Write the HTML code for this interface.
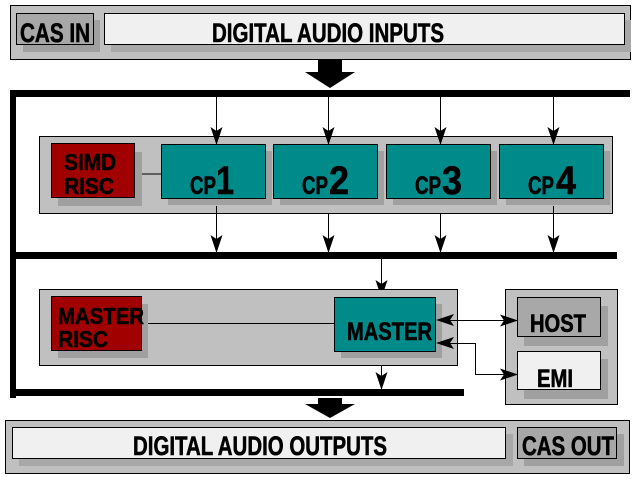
<!DOCTYPE html>
<html><head><style>html,body{margin:0;padding:0;background:#fff}svg{display:block}
text{font-family:"Liberation Sans Narrow","Liberation Sans",sans-serif;font-weight:bold;fill:#000;stroke:#000;stroke-width:0.6}</style></head>
<body><svg width="640" height="480" viewBox="0 0 640 480" xmlns="http://www.w3.org/2000/svg">
<defs><marker id="ah" markerWidth="18" markerHeight="12" refX="17" refY="6" orient="auto" markerUnits="userSpaceOnUse" viewBox="0 0 18 12"><path d="M0,0 L18,6 L0,12 L4,6 Z" fill="#000"/></marker></defs>
<rect x="10.5" y="5.5" width="620" height="54" fill="#c0c0c0" stroke="#000"/>
<rect x="23" y="20" width="77" height="32" fill="#a0a0a0"/>
<rect x="16.5" y="13.5" width="77" height="31" fill="#a8a8a8" stroke="#000"/>
<text x="20" y="42" font-size="27" textLength="70" lengthAdjust="spacingAndGlyphs">CAS IN</text>
<rect x="111" y="20" width="520" height="32" fill="#a8a8a8"/>
<rect x="104.5" y="13.5" width="520" height="31" fill="#f0f0f0" stroke="#000"/>
<text x="212" y="42" font-size="27" textLength="232" lengthAdjust="spacingAndGlyphs">DIGITAL AUDIO INPUTS</text>
<polygon points="318,59 342,59 342,72 355,72 330,88 305,72 318,72" fill="#000"/>
<rect x="10" y="90" width="620" height="7" fill="#000"/>
<rect x="10" y="90" width="6" height="308" fill="#000"/>
<rect x="39.5" y="136.5" width="573" height="77" fill="#c0c0c0" stroke="#000"/>
<line x1="134" y1="174" x2="161" y2="174" stroke="#000"/>
<rect x="58" y="152" width="84" height="54" fill="#a0a0a0"/>
<rect x="51.5" y="143.5" width="83" height="54" fill="#a00000" stroke="#000"/>
<text x="64" y="170" font-size="23" textLength="52" lengthAdjust="spacingAndGlyphs">SIMD</text>
<text x="64" y="194" font-size="23" textLength="50" lengthAdjust="spacingAndGlyphs">RISC</text>
<rect x="168" y="151" width="104" height="54" fill="#a0a0a0"/><rect x="161.5" y="144.5" width="104" height="54" fill="#008b8b" stroke="#000"/>
<text x="190" y="194" font-size="25" textLength="26" lengthAdjust="spacingAndGlyphs">CP</text><text x="216" y="194" font-size="40" textLength="18" lengthAdjust="spacingAndGlyphs">1</text>
<rect x="280" y="151" width="104" height="54" fill="#a0a0a0"/><rect x="273.5" y="144.5" width="104" height="54" fill="#008b8b" stroke="#000"/>
<text x="302" y="194" font-size="25" textLength="26" lengthAdjust="spacingAndGlyphs">CP</text><text x="329" y="194" font-size="40" textLength="20" lengthAdjust="spacingAndGlyphs">2</text>
<rect x="393" y="151" width="104" height="54" fill="#a0a0a0"/><rect x="386.5" y="144.5" width="104" height="54" fill="#008b8b" stroke="#000"/>
<text x="415" y="194" font-size="25" textLength="26" lengthAdjust="spacingAndGlyphs">CP</text><text x="442" y="194" font-size="40" textLength="20" lengthAdjust="spacingAndGlyphs">3</text>
<rect x="506" y="151" width="104" height="54" fill="#a0a0a0"/><rect x="499.5" y="144.5" width="104" height="54" fill="#008b8b" stroke="#000"/>
<text x="528" y="194" font-size="25" textLength="26" lengthAdjust="spacingAndGlyphs">CP</text><text x="556" y="194" font-size="40" textLength="20" lengthAdjust="spacingAndGlyphs">4</text>
<g stroke="#000" stroke-width="1" marker-end="url(#ah)">
<line x1="216.5" y1="97" x2="216.5" y2="144"/><line x1="328.5" y1="97" x2="328.5" y2="144"/>
<line x1="440.5" y1="97" x2="440.5" y2="144"/><line x1="553.5" y1="97" x2="553.5" y2="144"/>
<line x1="216.5" y1="206" x2="216.5" y2="252"/><line x1="328.5" y1="213" x2="328.5" y2="252"/>
<line x1="440.5" y1="213" x2="440.5" y2="252"/><line x1="553.5" y1="206" x2="553.5" y2="252"/>
<line x1="381.5" y1="258" x2="381.5" y2="297"/><line x1="381.5" y1="351" x2="381.5" y2="389"/>
</g>
<rect x="16" y="252" width="601" height="7" fill="#000"/>
<rect x="39.5" y="289.5" width="418" height="76" fill="#c0c0c0" stroke="#000"/>
<line x1="142" y1="323.5" x2="334" y2="323.5" stroke="#000"/>
<rect x="58" y="304" width="90" height="54" fill="#a0a0a0"/>
<rect x="51.5" y="296.5" width="90" height="54" fill="#a00000" stroke="#000"/>
<text x="58" y="324" font-size="23" textLength="86" lengthAdjust="spacingAndGlyphs">MASTER</text>
<text x="58" y="347" font-size="23" textLength="50" lengthAdjust="spacingAndGlyphs">RISC</text>
<rect x="341" y="304" width="101" height="54" fill="#a0a0a0"/>
<rect x="334.5" y="297.5" width="101" height="54" fill="#008b8b" stroke="#000"/>
<text x="347" y="340" font-size="25" textLength="85" lengthAdjust="spacingAndGlyphs">MASTER</text>
<rect x="10" y="389" width="454" height="7" fill="#000"/>
<rect x="505.5" y="289.5" width="112" height="115" fill="#c0c0c0" stroke="#000"/>
<rect x="524" y="306" width="84" height="40" fill="#a0a0a0"/>
<rect x="517.5" y="297.5" width="83" height="39" fill="#a8a8a8" stroke="#000"/>
<text x="530" y="332" font-size="25" textLength="56" lengthAdjust="spacingAndGlyphs">HOST</text>
<rect x="524" y="359" width="84" height="40" fill="#a0a0a0"/>
<rect x="517.5" y="351.5" width="83" height="38" fill="#f0f0f0" stroke="#000"/>
<text x="537" y="387" font-size="25" textLength="36" lengthAdjust="spacingAndGlyphs">EMI</text>
<g stroke="#000" fill="none">
<line x1="450" y1="320.5" x2="517" y2="320.5" marker-end="url(#ah)"/>
<polyline points="450,343.5 475.5,343.5 475.5,374.5 517,374.5" marker-end="url(#ah)"/>
</g>
<polygon points="436,320 454,314 450,320 454,326" fill="#000"/>
<polygon points="436,343 454,337 450,343 454,349" fill="#000"/>
<polygon points="318,398 342,398 342,404 355,404 330,418 305,404 318,404" fill="#000"/>
<rect x="5.5" y="420.5" width="624" height="53" fill="#c0c0c0" stroke="#000"/>
<rect x="19" y="434" width="494" height="32" fill="#a8a8a8"/>
<rect x="12.5" y="427.5" width="493" height="31" fill="#f0f0f0" stroke="#000"/>
<text x="133" y="455" font-size="27" textLength="254" lengthAdjust="spacingAndGlyphs">DIGITAL AUDIO OUTPUTS</text>
<rect x="524" y="434" width="100" height="32" fill="#a0a0a0"/>
<rect x="517.5" y="427.5" width="99" height="31" fill="#a8a8a8" stroke="#000"/>
<text x="522" y="455" font-size="27" textLength="92" lengthAdjust="spacingAndGlyphs">CAS OUT</text>
</svg></body></html>
